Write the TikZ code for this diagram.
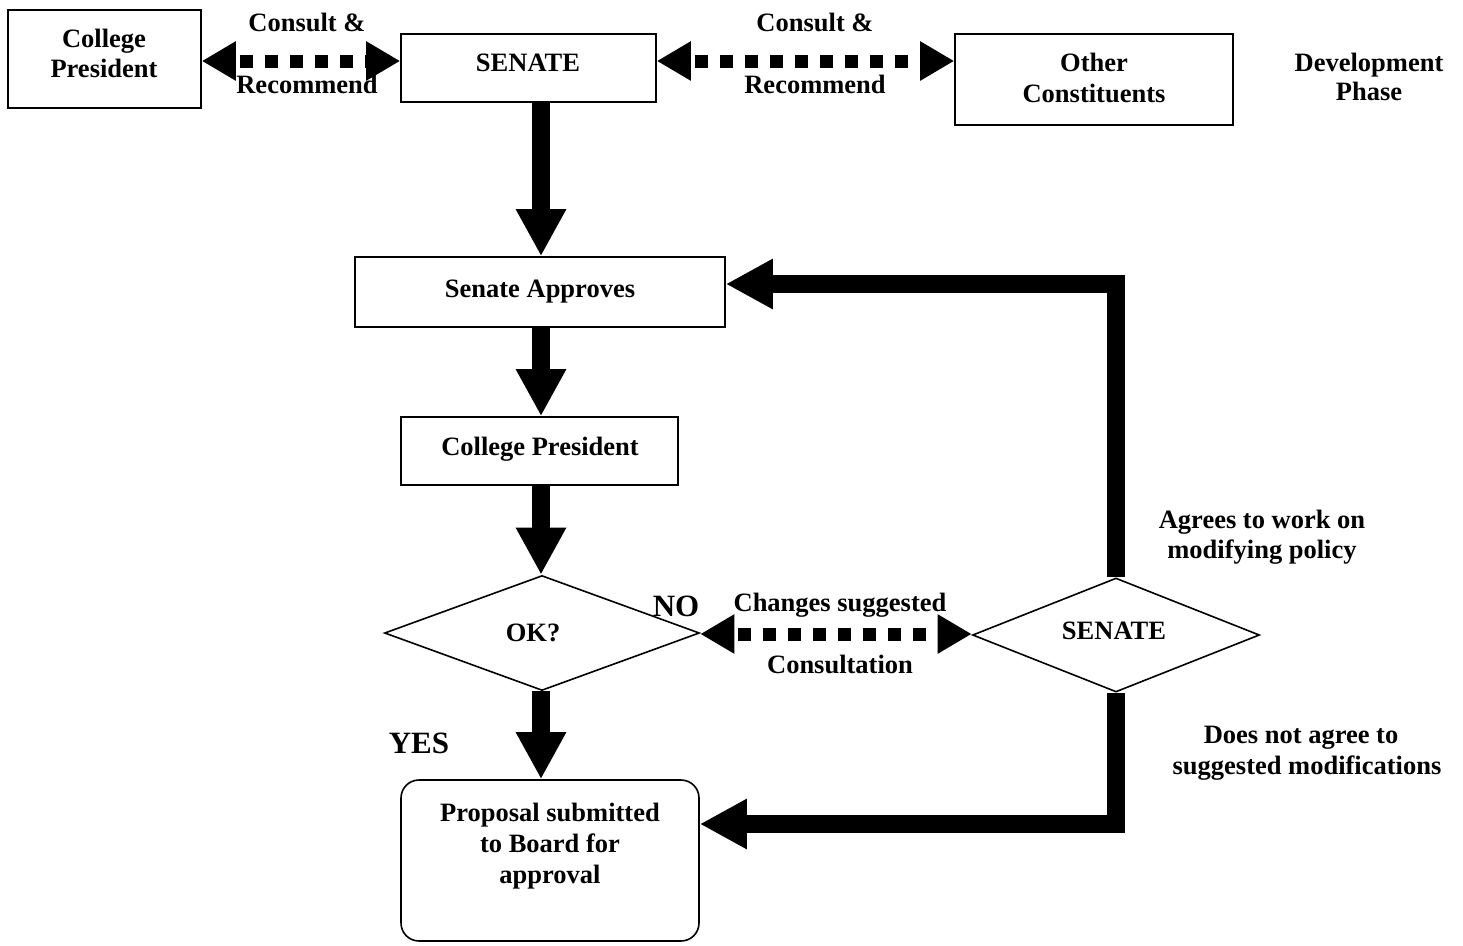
\documentclass[tikz,border=0pt]{standalone}
\usepackage{fontspec}
\setmainfont{Liberation Serif}
\usetikzlibrary{arrows.meta,shapes.geometric}
\begin{document}
\begin{tikzpicture}[x=1pt,y=-1pt,
  box/.style={draw,line width=1.6pt,inner sep=0pt},
  dia/.style={diamond,draw,line width=1.6pt,inner sep=0pt},
  lbl/.style={anchor=base,inner sep=0pt,font=\bfseries\fontsize{26.5}{30}\selectfont},
  biglbl/.style={anchor=base,inner sep=0pt,font=\bfseries\fontsize{31}{36}\selectfont},
  fatarrow/.style={line width=18pt,line join=miter,-{Triangle[length=47pt,width=47pt]}},
  dotarrow/.style={line width=13pt,dash pattern=on 13pt off 12pt,dash phase=-6pt,
    {Triangle[length=34pt,width=37pt]}-{Triangle[length=34pt,width=37pt]}}
]
\useasboundingbox (0,0) rectangle (1463,945);

% boxes
\node[box,minimum width=193pt,minimum height=98pt] (cp1) at (104.5,59) {};
\node[box,minimum width=255pt,minimum height=68pt] (sen1) at (528.5,68) {};
\node[box,minimum width=278pt,minimum height=91pt] (oth) at (1094,79.5) {};
\node[box,minimum width=370pt,minimum height=70pt] (sa) at (540,292) {};
\node[box,minimum width=277pt,minimum height=68pt] (cp2) at (539.5,451) {};
\node[dia,minimum width=315pt,minimum height=115pt] (ok) at (542,633) {};
\node[dia,minimum width=287pt,minimum height=114pt] (senD) at (1116,635) {};
\node[box,rounded corners=18pt,minimum width=298pt,minimum height=161pt] (prop) at (550,860.5) {};

% texts
\node[lbl] (t1) at (104,47) {College};
\node[lbl] (t2) at (104,77) {President};
\node[lbl] (t3) at (528,71) {SENATE};
\node[lbl] (t4) at (1094,71) {Other};
\node[lbl] (t5) at (1094,102) {Constituents};
\node[lbl] (t6) at (1369,71) {Development};
\node[lbl] (t7) at (1369,100) {Phase};
\node[lbl] (t8) at (307,31) {Consult \&};
\node[lbl] (t9) at (307,93) {Recommend};
\node[lbl] (t10) at (815,31) {Consult \&};
\node[lbl] (t11) at (815,93) {Recommend};
\node[lbl] (t12) at (540,297) {Senate Approves};
\node[lbl] (t13) at (540,455) {College President};
\node[lbl] (t14) at (533,641) {OK?};
\node[lbl] (t15) at (1114,639) {SENATE};
\node[biglbl] (t16) at (676,616) {NO};
\node[biglbl] (t17) at (419,753) {YES};
\node[lbl] (t18) at (840,611) {Changes suggested};
\node[lbl] (t19) at (840,673) {Consultation};
\node[lbl] (t20) at (1262,528) {Agrees to work on};
\node[lbl] (t21) at (1262,558) {modifying policy};
\node[lbl] (t22) at (1301,743) {Does not agree to};
\node[lbl] (t23) at (1307,774) {suggested modifications};
\node[lbl] (t24) at (550,821) {Proposal submitted};
\node[lbl] (t25) at (550,852) {to Board for};
\node[lbl] (t26) at (550,883) {approval};

% helper coordinates
\coordinate (ax) at (541,0);
\coordinate (d1) at (0,61);
\coordinate (d2) at (0,634);
\coordinate (hy) at (0,284);
\coordinate (py) at (0,824);

% vertical fat arrows
\draw[fatarrow] (ax |- sen1.south) -- (ax |- sa.north);
\draw[fatarrow] (ax |- sa.south) -- (ax |- cp2.north);
\draw[fatarrow] (ax |- cp2.south) -- (ax |- ok.north);
\draw[fatarrow] (ax |- ok.south) -- (ax |- prop.north);

% loops from SENATE diamond
\draw[fatarrow] (senD.north) -- (senD.north |- hy) -- (hy -| sa.east);
\draw[fatarrow] (senD.south) -- (senD.south |- py) -- (py -| prop.east);

% dotted consult arrows
\draw[dotarrow] (d1 -| cp1.east) -- (d1 -| sen1.west);
\draw[dotarrow] (d1 -| sen1.east) -- (d1 -| oth.west);
\draw[dotarrow] (d2 -| ok.east) -- (d2 -| senD.west);
\end{tikzpicture}
\end{document}
